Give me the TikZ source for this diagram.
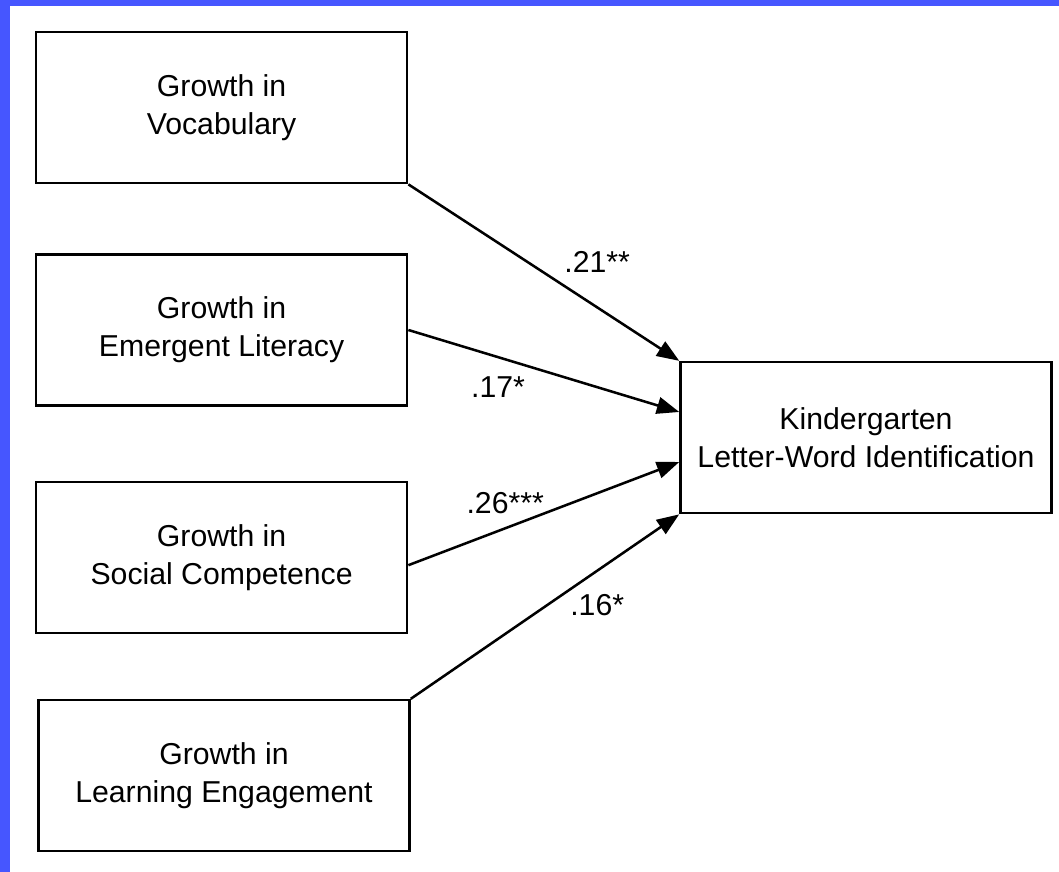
\documentclass[tikz,border=0pt]{standalone}
\usepackage{fontspec}
\setmainfont{Liberation Sans}
\usetikzlibrary{arrows.meta}

\definecolor{slideblue}{RGB}{70,86,255}

\begin{document}
\begin{tikzpicture}[
    box/.style = {draw, line width = 1.8pt, minimum width = 9.275cm, minimum height = 3.775cm,
                  align = center, font = \fontsize{21.5pt}{27pt}\selectfont},
    effect/.style = {-{Triangle[length = 0.56cm, width = 0.42cm]}, line width = 1.8pt},
    coef/.style = {font = \fontsize{21.5pt}{26pt}\selectfont}
  ]
      % slide background with the blue edge
      \fill[white] (0, 0) rectangle (26.475, 21.8);
      \fill[slideblue] (0, 0) rectangle (0.25, 21.8);
      \fill[slideblue] (0, 21.65) rectangle (26.475, 21.8);

      \node[box] (Growth Vocabulary) at (5.54, 19.11) {Growth in\\Vocabulary};
      \node[box] (Growth Literacy) at (5.54, 13.55) {Growth in\\Emergent Literacy};
      \node[box] (Growth Social) at (5.54, 7.86) {Growth in\\Social Competence};
      \node[box] (Growth Engagement) at (5.6, 2.41) {Growth in\\Learning Engagement};
      \node[box] (Kindergarten LWID) at (21.65, 10.86) {Kindergarten\\Letter-Word Identification};

      \draw[effect] (Growth Vocabulary.south east) -- (Kindergarten LWID.north west);
      \draw[effect] (Growth Literacy.east) -- ([yshift = 0.64cm]Kindergarten LWID.west);
      \draw[effect] ([yshift = -0.19cm]Growth Social.east) -- ([yshift = -0.61cm]Kindergarten LWID.west);
      \draw[effect] (Growth Engagement.north east) -- (Kindergarten LWID.south west);

      \node[coef] (Coef Vocabulary) at (14.93, 15.25) {.21**};
      \node[coef] (Coef Literacy) at (12.45, 12.13) {.17*};
      \node[coef] (Coef Social) at (12.63, 9.23) {.26***};
      \node[coef] (Coef Engagement) at (14.93, 6.68) {.16*};
    \end{tikzpicture}
\end{document}
